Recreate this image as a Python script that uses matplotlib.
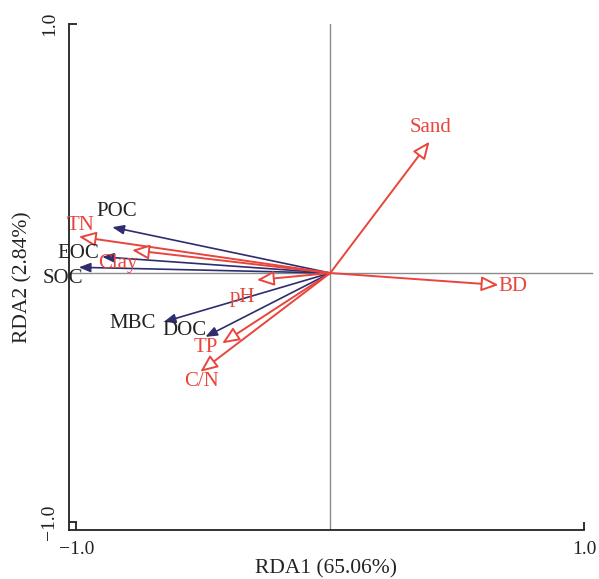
import matplotlib
matplotlib.use("Agg")
import matplotlib.pyplot as plt

plt.rcParams['font.family'] = ['Liberation Serif', 'DejaVu Serif']
plt.rcParams['mathtext.fontset'] = 'stix'

# Response variables (navy arrows)
resp_names = ["POC", "EOC", "SOC", "MBC", "DOC"]
resp_x = [-0.859, -0.899, -0.991, -0.656, -0.492]
resp_y = [0.184, 0.065, 0.023, -0.196, -0.256]
resp_lab_x = [-0.843, -0.992, -1.055, -0.780, -0.575]
resp_lab_y = [0.245, 0.080, -0.020, -0.201, -0.229]

# Explanatory variables (red arrows)
env_names = ["TN", "Clay", "pH", "TP", "C/N", "Sand", "BD"]
env_x = [-0.991, -0.781, -0.289, -0.426, -0.512, 0.391, 0.663]
env_y = [0.146, 0.092, -0.028, -0.282, -0.396, 0.527, -0.048]
env_lab_x = [-0.984, -0.835, -0.346, -0.492, -0.508, 0.394, 0.720]
env_lab_y = [0.189, 0.040, -0.100, -0.297, -0.434, 0.582, -0.056]

xlabel = "RDA1 (65.06%)"
ylabel = "RDA2 (2.84%)"

RED = "#e8453c"
NAVY = "#2e2d6e"

fig = plt.figure(figsize=(5.99, 5.79), dpi=100)
ax = fig.add_axes([0.115, 0.085, 0.86, 0.874])
ax.set_xlim(-1.03, 1.0)
ax.set_ylim(-1.03, 1.0)

ax.axvline(0, color="#8a8a8a", lw=1.0, zorder=1)
ax.plot([-1.03, 1.03], [0, 0], color="#8a8a8a", lw=1.0, zorder=1, clip_on=False)

for name, x, y, lx, ly in zip(resp_names, resp_x, resp_y, resp_lab_x, resp_lab_y):
    ax.annotate("", xy=(x, y), xytext=(0, 0),
                arrowprops=dict(arrowstyle="-|>,head_length=0.5,head_width=0.2",
                                color=NAVY, lw=1.2, shrinkA=0, shrinkB=0,
                                mutation_scale=14), zorder=3)
    ax.text(lx, ly, name, color="#222222", fontsize=15, ha="center", va="center", zorder=4)

for name, x, y, lx, ly in zip(env_names, env_x, env_y, env_lab_x, env_lab_y):
    ax.annotate("", xy=(x, y), xytext=(0, 0),
                arrowprops=dict(arrowstyle="-|>,head_length=0.65,head_width=0.28",
                                fc="white", ec=RED, lw=1.4, shrinkA=0, shrinkB=0,
                                mutation_scale=16), zorder=3)
    ax.text(lx, ly, name, color=RED, fontsize=15, ha="center", va="center", zorder=4)

for s in ["top", "right"]:
    ax.spines[s].set_visible(False)
for s in ["left", "bottom"]:
    ax.spines[s].set_linewidth(1.3)
    ax.spines[s].set_color("#222222")

ax.set_xticks([-1.0, 1.0])
ax.set_xticklabels(["\u22121.0", "1.0"])
ax.set_yticks([-1.0, 1.0])
ax.set_yticklabels(["\u22121.0", "1.0"], rotation=90, va="center")
ax.tick_params(direction="in", length=6, width=1.3, labelsize=14, colors="#222222", pad=8)

ax.set_xlabel(xlabel, fontsize=15.5, color="#222222", labelpad=1)
ax.set_ylabel(ylabel, fontsize=15.5, color="#222222", labelpad=6)

fig.savefig("out.png", dpi=100)
